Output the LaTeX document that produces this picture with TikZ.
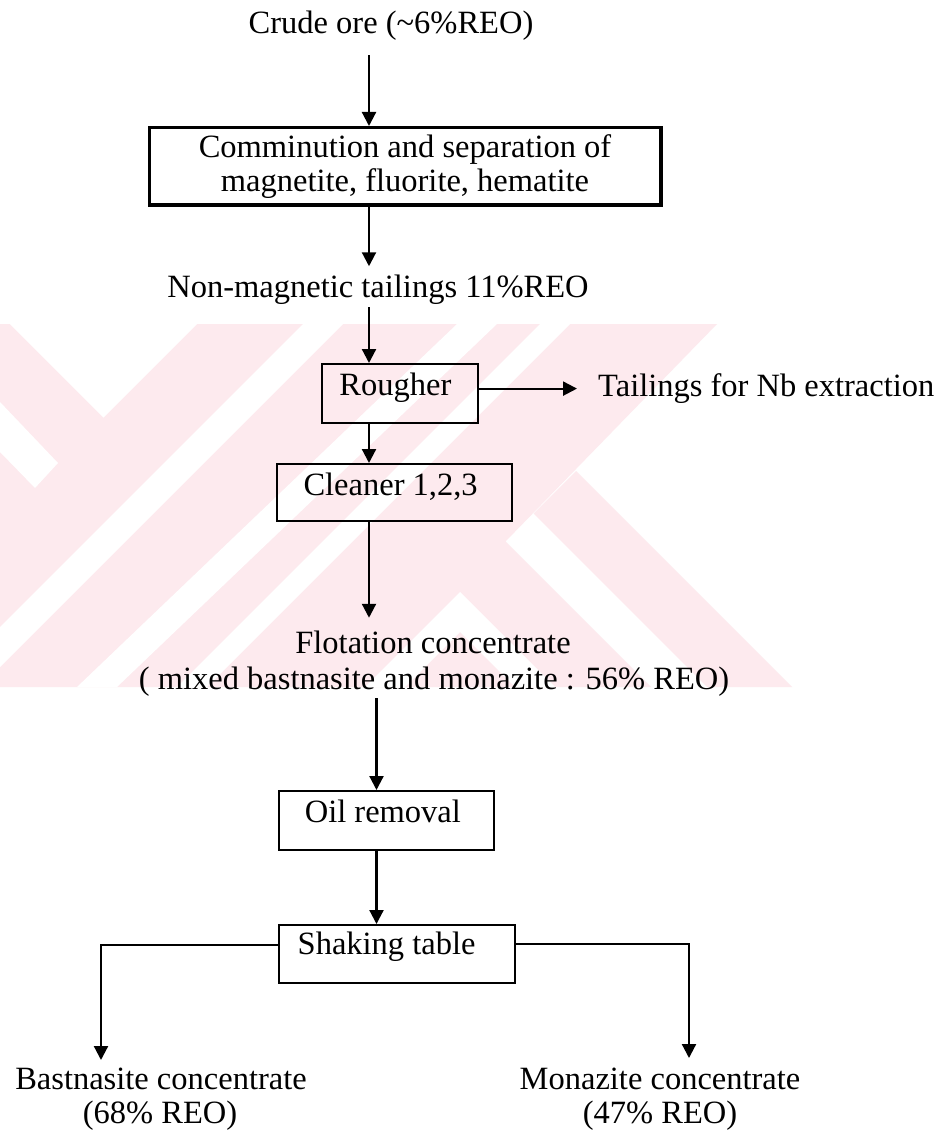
\documentclass[tikz,border=0pt]{standalone}
\usepackage{fontspec}
\setmainfont{Liberation Serif}
\usetikzlibrary{arrows.meta}
\definecolor{wmpink}{RGB}{253,234,238}
\begin{document}
\begin{tikzpicture}[x=1pt,y=-1pt,
  every node/.style={font=\fontsize{32.5}{34}\selectfont, inner sep=0pt},
  flow/.style={line width=2.2pt, -{Triangle[length=14pt,width=14pt]}},
  procbox/.style={draw, line width=2.2pt, anchor=north west},
  lbl/.style={anchor=base},
]
\useasboundingbox (0,0) rectangle (938,1134);
\fill[white] (0,0) rectangle (938,1134);

% faint background emblem: pink band with white diagonal cuts
\fill[wmpink] (0,324) -- (717,324) -- (505.5,541.5) -- (651,687) -- (0,687) -- cycle;
\fill[wmpink] (533.5,513.5) -- (576,471) -- (792,687) -- (707,687) -- cycle;
\fill[white] (10,324) -- (197,324) -- (103.5,417.5) -- cycle;
\fill[white] (0,402) -- (58,463) -- (35,488) -- (0,452) -- cycle;
\fill[white] (303,324) -- (343,324) -- (0,667) -- (0,627) -- cycle;
\fill[white] (457,324) -- (497,324) -- (117,687) -- (77,687) -- cycle;
\fill[white] (540,324) -- (570,324) -- (207,687) -- (177,687) -- cycle;
\fill[white] (365,687) -- (460,592) -- (555,687) -- (515,687) -- (460,632) -- (405,687) -- cycle;

% spines of the vertical flow
\coordinate (sp1) at (369,0);
\coordinate (sp2) at (376.5,0);

% process boxes
\node[procbox, line width=3.5pt, minimum width=511.5pt, minimum height=77pt, align=center]
  (comm) at (147.5,126) {Comminution and separation of\\magnetite, fluorite, hematite};
\node[procbox, minimum width=156.4pt, text height=31pt, text depth=28pt] (rough) at (320.6,363) {Rougher\hspace*{9pt}};
\node[procbox, minimum width=235pt, text height=31.5pt, text depth=25.5pt] (clean) at (276,463) {Cleaner 1,2,3\hspace*{8pt}};
\node[procbox, minimum width=215.5pt, text height=31.5pt, text depth=27.5pt] (oil) at (277.5,790) {Oil removal\hspace*{7pt}};
\node[procbox, minimum width=236pt, text height=29.5pt, text depth=28.5pt] (shake) at (277.5,924) {Shaking table\hspace*{20pt}};

% stream labels
\node[lbl] (crude) at (391,34) {Crude ore (\textasciitilde6\%REO)};
\node[lbl] (nonmag) at (378,297) {Non-magnetic tailings 11\%REO};
\node[anchor=base west] (tail) at (598,396) {Tailings for Nb extraction};
\node[lbl] (flot) at (433,653.5) {Flotation concentrate};
\node[lbl] (mixed) at (434,689) {( mixed bastnasite and monazite : 56\% REO)};
\node[lbl] (bast) at (161,1089.5) {Bastnasite concentrate};
\node[lbl] (bastg) at (160,1123.5) {(68\% REO)};
\node[lbl] (mona) at (660,1089.5) {Monazite concentrate};
\node[lbl] (monag) at (660,1123.5) {(47\% REO)};

\coordinate (bastTip) at (101,1060);
\coordinate (monaTip) at (689,1058);

% connectors
\draw[flow, shorten <=14pt] (crude.south -| sp1) -- (comm.north -| sp1);
\draw[flow, shorten >=8pt] (comm.south -| sp1) -- (nonmag.north -| sp1);
\draw[flow, shorten <=3pt] (nonmag.south -| sp1) -- (rough.north -| sp1);
\draw[flow, shorten >=21pt] ([yshift=5pt]rough.east) -- ([yshift=5pt]rough.east -| tail.west);
\draw[flow] (rough.south -| sp1) -- (clean.north -| sp1);
\draw[flow, shorten >=13pt] (clean.south -| sp1) -- (flot.north -| sp1);
\draw[flow, shorten <=2pt] (mixed.south -| sp2) -- (oil.north -| sp2);
\draw[flow] (oil.south -| sp2) -- (shake.north -| sp2);
\draw[flow] ([yshift=9pt]shake.west) -| (bastTip);
\draw[flow] ([yshift=10pt]shake.east) -| (monaTip);
\end{tikzpicture}
\end{document}
